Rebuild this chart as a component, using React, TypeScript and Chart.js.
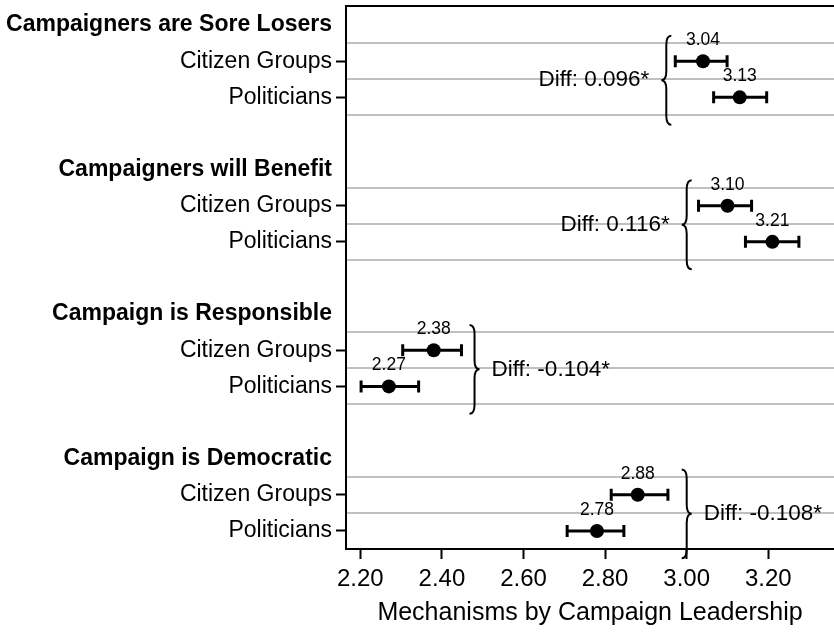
import React, { useEffect, useRef } from "react";
import { Chart, registerables } from "chart.js";

Chart.register(...registerables);

// ---------- data ----------
const groupTitles = [
  "Campaigners are Sore Losers",
  "Campaigners will Benefit",
  "Campaign is Responsible",
  "Campaign is Democratic",
];
const actors = ["Citizen Groups", "Politicians"];

const citizenMean = [3.04, 3.1, 2.38, 2.88];
const citizenLow = [2.972, 3.029, 2.304, 2.815];
const citizenHigh = [3.099, 3.159, 2.448, 2.954];

const politicianMean = [3.13, 3.21, 2.27, 2.78];
const politicianLow = [3.066, 3.144, 2.202, 2.707];
const politicianHigh = [3.196, 3.275, 2.343, 2.846];

const diffLabels = ["Diff: 0.096*", "Diff: 0.116*", "Diff: -0.104*", "Diff: -0.108*"];
// x value (data units) of each brace's spine, and which way the brace points
const braceAt = [2.95, 3.0, 2.48, 3.0];
const braceSide = ["left", "left", "right", "right"];

const xTicks = [2.2, 2.4, 2.6, 2.8, 3.0, 3.2];
const xMin = 2.165;
const xMax = 3.361;
const xTitle = "Mechanisms by Campaign Leadership";

// ---------- derived rows ----------
const rows: string[] = [];
const rowKind: string[] = [];
groupTitles.forEach((t, g) => {
  if (g > 0) {
    rows.push("");
    rowKind.push("blank");
  }
  rows.push(t);
  rowKind.push("header");
  actors.forEach((a) => {
    rows.push(a);
    rowKind.push("sub");
  });
});

const FONT = "'Liberation Sans', Arial, Helvetica, sans-serif";
const GRID = "#c0c0c0";

type Pt = { g: number; row: number; mean: number; lo: number; hi: number };
const points: Pt[] = [];
groupTitles.forEach((_, g) => {
  points.push({ g, row: 4 * g + 1, mean: citizenMean[g], lo: citizenLow[g], hi: citizenHigh[g] });
  points.push({ g, row: 4 * g + 2, mean: politicianMean[g], lo: politicianLow[g], hi: politicianHigh[g] });
});

function drawBrace(ctx: CanvasRenderingContext2D, xs: number, yTop: number, yMid: number, yBot: number, dir: number) {
  const h = 5;
  const r = 9;
  ctx.beginPath();
  ctx.moveTo(xs - dir * h, yTop);
  ctx.quadraticCurveTo(xs, yTop, xs, yTop + r);
  ctx.lineTo(xs, yMid - r);
  ctx.quadraticCurveTo(xs, yMid, xs + dir * h, yMid);
  ctx.quadraticCurveTo(xs, yMid, xs, yMid + r);
  ctx.lineTo(xs, yBot - r);
  ctx.quadraticCurveTo(xs, yBot, xs - dir * h, yBot);
  ctx.stroke();
}

const overlay = {
  id: "overlay",
  beforeDatasetsDraw(chart: any) {
    const { ctx, chartArea: a, scales } = chart;
    const x = scales.x;
    const y = scales.y;
    ctx.save();
    // grid lines between rows
    ctx.strokeStyle = GRID;
    ctx.lineWidth = 2;
    groupTitles.forEach((_, g) => {
      [0.5, 1.5, 2.5].forEach((off) => {
        const py = Math.round(y.getPixelForValue(4 * g + off));
        if (py >= a.bottom - 2) return;
        ctx.beginPath();
        ctx.moveTo(a.left + 1, py);
        ctx.lineTo(a.right, py);
        ctx.stroke();
      });
    });
    // top frame line
    ctx.strokeStyle = "#000";
    ctx.lineWidth = 2;
    ctx.beginPath();
    ctx.moveTo(a.left - 1, a.top - 1);
    ctx.lineTo(a.right, a.top - 1);
    ctx.stroke();
    // error bars
    ctx.lineWidth = 3;
    points.forEach((p) => {
      const py = y.getPixelForValue(p.row);
      const x0 = x.getPixelForValue(p.lo);
      const x1 = x.getPixelForValue(p.hi);
      ctx.beginPath();
      ctx.moveTo(x0, py);
      ctx.lineTo(x1, py);
      ctx.moveTo(x0, py - 6);
      ctx.lineTo(x0, py + 6);
      ctx.moveTo(x1, py - 6);
      ctx.lineTo(x1, py + 6);
      ctx.stroke();
    });
    ctx.restore();
  },
  afterDatasetsDraw(chart: any) {
    const { ctx, scales } = chart;
    const x = scales.x;
    const y = scales.y;
    ctx.save();
    ctx.fillStyle = "#000";
    // value labels
    ctx.font = `17.5px ${FONT}`;
    ctx.textAlign = "center";
    ctx.textBaseline = "alphabetic";
    points.forEach((p) => {
      const px = x.getPixelForValue(p.mean);
      const py = y.getPixelForValue(p.row);
      ctx.fillText(p.mean.toFixed(2), px, py - 16);
    });
    // braces and differences
    ctx.strokeStyle = "#000";
    ctx.lineWidth = 2;
    ctx.font = `22.5px ${FONT}`;
    ctx.textBaseline = "middle";
    groupTitles.forEach((_, g) => {
      const yc = y.getPixelForValue(4 * g + 1);
      const yp = y.getPixelForValue(4 * g + 2);
      const mid = (yc + yp) / 2 + 1;
      const half = (yp - yc) * 1.23;
      const dir = braceSide[g] === "left" ? -1 : 1;
      const xs = x.getPixelForValue(braceAt[g]);
      drawBrace(ctx, xs, mid - half, mid, mid + half, dir);
      const tip = xs + dir * 5;
      ctx.textAlign = dir < 0 ? "right" : "left";
      ctx.fillText(diffLabels[g], tip + dir * 12, mid);
    });
    ctx.restore();
  },
};

export default function App() {
  const ref = useRef<HTMLCanvasElement>(null);
  useEffect(() => {
    document.body.style.margin = "0";
    const canvas = ref.current;
    if (!canvas) return;
    const chart = new Chart(canvas, {
      type: "scatter",
      data: {
        datasets: [
          {
            data: points.map((p) => ({ x: p.mean, y: p.row })),
            pointRadius: 7,
            pointHoverRadius: 7,
            backgroundColor: "#000",
            borderColor: "#000",
            borderWidth: 0,
            showLine: false,
          },
        ],
      },
      options: {
        animation: false,
        responsive: false,
        events: [],
        layout: { autoPadding: false, padding: { top: 7, left: 0, right: 0, bottom: 0 } },
        plugins: { legend: { display: false }, tooltip: { enabled: false } },
        scales: {
          x: {
            type: "linear",
            position: "bottom",
            min: xMin,
            max: xMax,
            afterBuildTicks: (s: any) => {
              s.ticks = xTicks.map((v) => ({ value: v }));
            },
            afterFit: (s: any) => {
              s.height = 83;
              s.paddingLeft = 0;
              s.paddingRight = 0;
            },
            ticks: {
              callback: (v: any) => Number(v).toFixed(2),
              font: { family: FONT, size: 24 },
              color: "#000",
              padding: 6,
              maxRotation: 0,
              autoSkip: false,
            },
            grid: {
              drawOnChartArea: false,
              drawTicks: true,
              tickLength: 10,
              tickWidth: 2,
              tickColor: "#000",
            },
            border: { display: true, color: "#000", width: 2 },
            title: {
              display: true,
              text: xTitle,
              font: { family: FONT, size: 25 },
              color: "#000",
              padding: { top: 0, bottom: 4 },
            },
          },
          y: {
            type: "linear",
            position: "left",
            reverse: true,
            min: -0.5,
            max: rows.length - 0.5,
            afterBuildTicks: (s: any) => {
              s.ticks = rows.map((_, i) => ({ value: i }));
            },
            afterFit: (s: any) => {
              s.width = 346;
              s.paddingTop = 0;
              s.paddingBottom = 0;
            },
            ticks: {
              autoSkip: false,
              callback: (v: any) => rows[Math.round(Number(v))] ?? "",
              font: (c: any) => ({
                family: FONT,
                size: 23,
                weight: rowKind[c.index] === "header" ? "bold" : "normal",
              }),
              color: "#000",
              padding: 4,
            },
            grid: {
              drawOnChartArea: false,
              drawTicks: true,
              tickLength: 10,
              tickWidth: 2,
              tickColor: (c: any) => (rowKind[c.index] === "sub" ? "#000" : "rgba(0,0,0,0)"),
            },
            border: { display: true, color: "#000", width: 2 },
          },
        },
      },
      plugins: [overlay],
    } as any);
    return () => chart.destroy();
  }, []);
  return (
    <div style={{ width: 834, height: 632, background: "#fff" }}>
      <canvas ref={ref} width={834} height={632} style={{ display: "block" }} />
    </div>
  );
}
